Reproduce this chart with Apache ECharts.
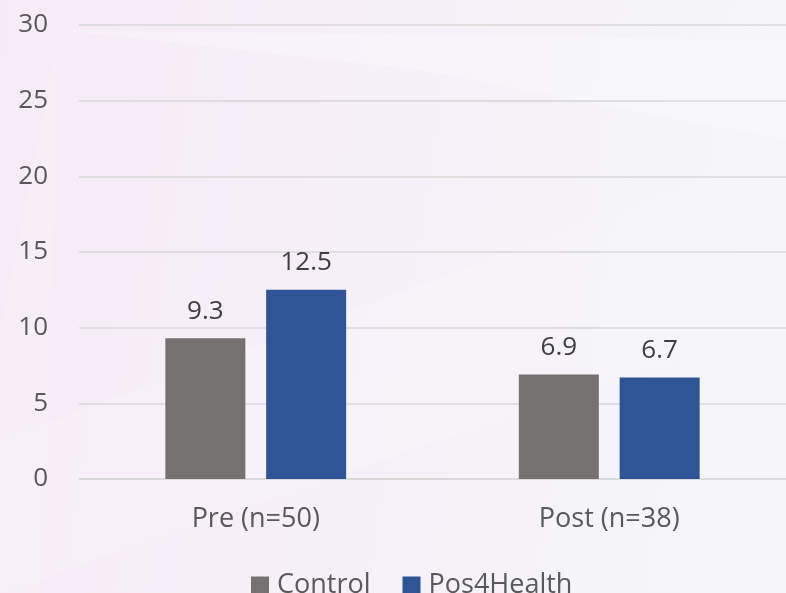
<!DOCTYPE html>
<html>
<head>
<meta charset="utf-8">
<script src="https://cdn.jsdelivr.net/npm/echarts@6/dist/echarts.min.js"></script>
<style>
  html, body { margin: 0; padding: 0; }
  #chart { width: 786px; height: 593px; }
</style>
</head>
<body>
<div id="chart"></div>
<script>
// Mean scores before and after the intervention, by group
const categories = ['Pre (n=50)', 'Post (n=38)'];
const controlValues = [9.3, 6.9];
const pos4HealthValues = [12.5, 6.7];
const seriesNames = ['Control', 'Pos4Health'];

const FONT = '"Open Sans", "Noto Sans", sans-serif';

const chart = echarts.init(document.getElementById('chart'));

chart.setOption({
  backgroundColor: {
    type: 'linear', x: 0, y: 0, x2: 1, y2: 0.2,
    colorStops: [
      { offset: 0, color: '#f7ebf8' },
      { offset: 0.4, color: '#f6eff8' },
      { offset: 0.75, color: '#f5f3f8' },
      { offset: 1, color: '#f6f6f9' }
    ]
  },
  graphic: [
    // soft diagonal light bands in the backdrop
    {
      type: 'polygon', z: -10, silent: true,
      shape: { points: [[60, 30], [786, 40], [786, 140], [420, 70]] },
      style: { fill: 'rgba(255,255,255,0.25)' }
    },
    {
      type: 'polygon', z: -10, silent: true,
      shape: { points: [[0, 593], [0, 440], [786, 150], [786, 320]] },
      style: { fill: 'rgba(255,255,255,0.14)' }
    },
    {
      type: 'polygon', z: -10, silent: true,
      shape: { points: [[60, 30], [0, 330], [0, 593], [40, 593]] },
      style: { fill: 'rgba(255,255,255,0.12)' }
    }
  ],
  animation: false,
  grid: { left: 79, right: 0, top: 25, bottom: 114 },
  legend: {
    top: 567,
    left: 246,
    itemWidth: 18,
    itemHeight: 18,
    itemGap: 32,
    icon: 'rect',
    textStyle: { color: '#595959', fontSize: 27, fontFamily: FONT, padding: [0, 0, 0, 3] },
    data: seriesNames
  },
  xAxis: {
    type: 'category',
    data: categories,
    axisLine: { show: true, lineStyle: { color: '#d9d9d9', width: 1.5 } },
    axisTick: { show: false },
    axisLabel: { color: '#595959', fontSize: 27, fontFamily: FONT, margin: 27 }
  },
  yAxis: {
    type: 'value',
    min: 0, max: 30, interval: 5,
    axisLine: { show: false },
    axisTick: { show: false },
    axisLabel: { color: '#595959', fontSize: 26, fontFamily: FONT, margin: 31 },
    splitLine: { lineStyle: { color: '#d9d9d9', width: 1.5 } }
  },
  series: [
    {
      name: seriesNames[0],
      type: 'bar',
      data: controlValues,
      barWidth: 80,
      barGap: '26%',
      itemStyle: { color: '#767171' },
      label: {
        show: true, position: 'top', distance: 14,
        color: '#404040', fontSize: 26, fontFamily: FONT
      }
    },
    {
      name: seriesNames[1],
      type: 'bar',
      data: pos4HealthValues,
      barWidth: 80,
      itemStyle: { color: '#2f5597' },
      label: {
        show: true, position: 'top', distance: 14,
        color: '#404040', fontSize: 26, fontFamily: FONT
      }
    }
  ]
});
</script>
</body>
</html>
